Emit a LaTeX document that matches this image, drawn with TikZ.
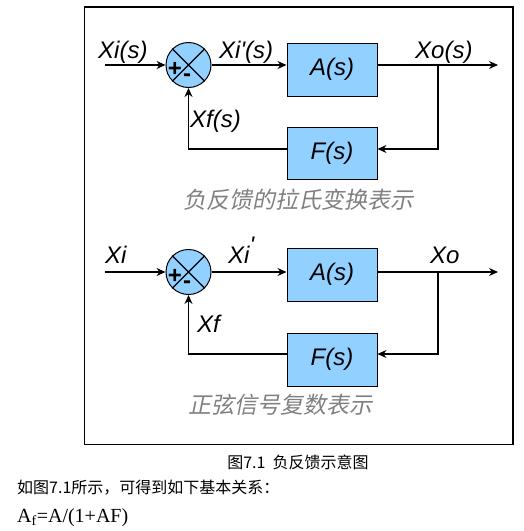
\documentclass[tikz,border=0pt]{standalone}
\usepackage{fontspec}
\setmainfont{Liberation Sans}
\newfontfamily\cjkfont{Noto Sans CJK SC}
\newfontfamily\cjkslant[FakeSlant=0.2]{Noto Sans CJK SC}
\newfontfamily\timesfont{Liberation Serif}
\usetikzlibrary{arrows.meta,positioning}
\definecolor{blockblue}{RGB}{146,208,255}
\tikzset{
  block/.style={
    draw,
    line width=1pt,
    fill=blockblue,
    minimum width=90pt,
    minimum height=53pt,
    inner sep=0pt,
    font=\fontsize{24}{28}\selectfont\itshape
  },
  summer/.style={
    draw,
    circle,
    line width=1pt,
    fill=blockblue,
    minimum size=45pt,
    inner sep=0pt
  },
  signal/.style={
    anchor=base west,
    inner sep=0pt,
    font=\fontsize{24}{28}\selectfont\itshape
  },
  sign/.style={inner sep=0pt, font=\fontsize{24}{26}\selectfont\bfseries},
  caption/.style={inner sep=0pt, text=black!50, font=\cjkslant\fontsize{23}{26}\selectfont},
  wire/.style={line width=1.1pt},
  flow/.style={-{Stealth[length=9pt,width=8pt,inset=3pt]}, line width=1.1pt}
}

\begin{document}
\begin{tikzpicture}[x=1pt,y=-1pt]
  \useasboundingbox (0,0) rectangle (524,531);
  \draw[line width=1.4pt] (84.5,7) rectangle (513,444.5);

  % Laplace form
  \node[summer] (sum1) at (188.5,65) {};
  \draw[wire] (sum1.north west) -- (sum1.south east) (sum1.north east) -- (sum1.south west);
  \node[sign] (plus1) at (175,69) {+};
  \node[sign] (minus1) at (187,78) {-};
  \node[block] (amp1) at (332,69.5) {A(s)};
  \node[block, minimum height=52pt] (fb1) at (332,153) {F(s)};
  \coordinate (in1) at (105,65);
  \coordinate (tap1) at (438,65);
  \coordinate (out1) at (498,65);
  \coordinate (back1) at (438,149);

  \draw[flow] (in1) -- (sum1.west);
  \draw[flow] (sum1.east) -- (amp1.west |- sum1.east);
  \draw[wire] (amp1.east |- tap1) -- (tap1);
  \draw[flow] (tap1) -- (out1);
  \draw[flow] (tap1) -- (back1) -- (fb1.east |- back1);
  \draw[flow] (fb1.west |- back1) -| (sum1.south);

  \node[signal] (xi1) at (98,58) {Xi(s)};
  \node[signal] (xip1) at (219,58) {Xi\textquotesingle(s)};
  \node[signal] (xo1) at (415,58) {Xo(s)};
  \node[signal] (xf1) at (190,127) {Xf(s)};
  \node[caption] (cap1) at (298,200) {负反馈的拉氏变换表示};

  % phasor form
  \node[summer] (sum2) at (188.5,272) {};
  \draw[wire] (sum2.north west) -- (sum2.south east) (sum2.north east) -- (sum2.south west);
  \node[sign] (plus2) at (175,276) {+};
  \node[sign] (minus2) at (187,285) {-};
  \node[block] (amp2) at (332,274.5) {A(s)};
  \node[block] (fb2) at (332,359.5) {F(s)};
  \coordinate (in2) at (105,272);
  \coordinate (tap2) at (438,272);
  \coordinate (out2) at (498,272);
  \coordinate (back2) at (438,354);

  \draw[flow] (in2) -- (sum2.west);
  \draw[flow] (sum2.east) -- (amp2.west |- sum2.east);
  \draw[wire] (amp2.east |- tap2) -- (tap2);
  \draw[flow] (tap2) -- (out2);
  \draw[flow] (tap2) -- (back2) -- (fb2.east |- back2);
  \draw[flow] (fb2.west |- back2) -| (sum2.south);

  \node[signal] (xi2) at (105,263) {Xi};
  \node[signal] (xip2) at (228,263) {Xi\raisebox{10pt}{\textquotesingle}};
  \node[signal] (xo2) at (430,263) {Xo};
  \node[signal] (xf2) at (197,332) {Xf};
  \node[caption] (cap2) at (280,405) {正弦信号复数表示};

  % text below the frame
  \node[inner sep=0pt, font=\cjkfont\fontsize{16}{18}\selectfont] (figcap) at (298,462) {图7.1\ \ 负反馈示意图};
  \node[anchor=west, inner sep=0pt, font=\cjkfont\fontsize{16}{18}\selectfont] (intro) at (17,488) {如图7.1所示，可得到如下基本关系：};
  \node[anchor=west, inner sep=0pt, font=\timesfont\fontsize{20}{22}\selectfont] (formula) at (17,518) {A\textsubscript{f}=A/(1+AF)};
\end{tikzpicture}
\end{document}
